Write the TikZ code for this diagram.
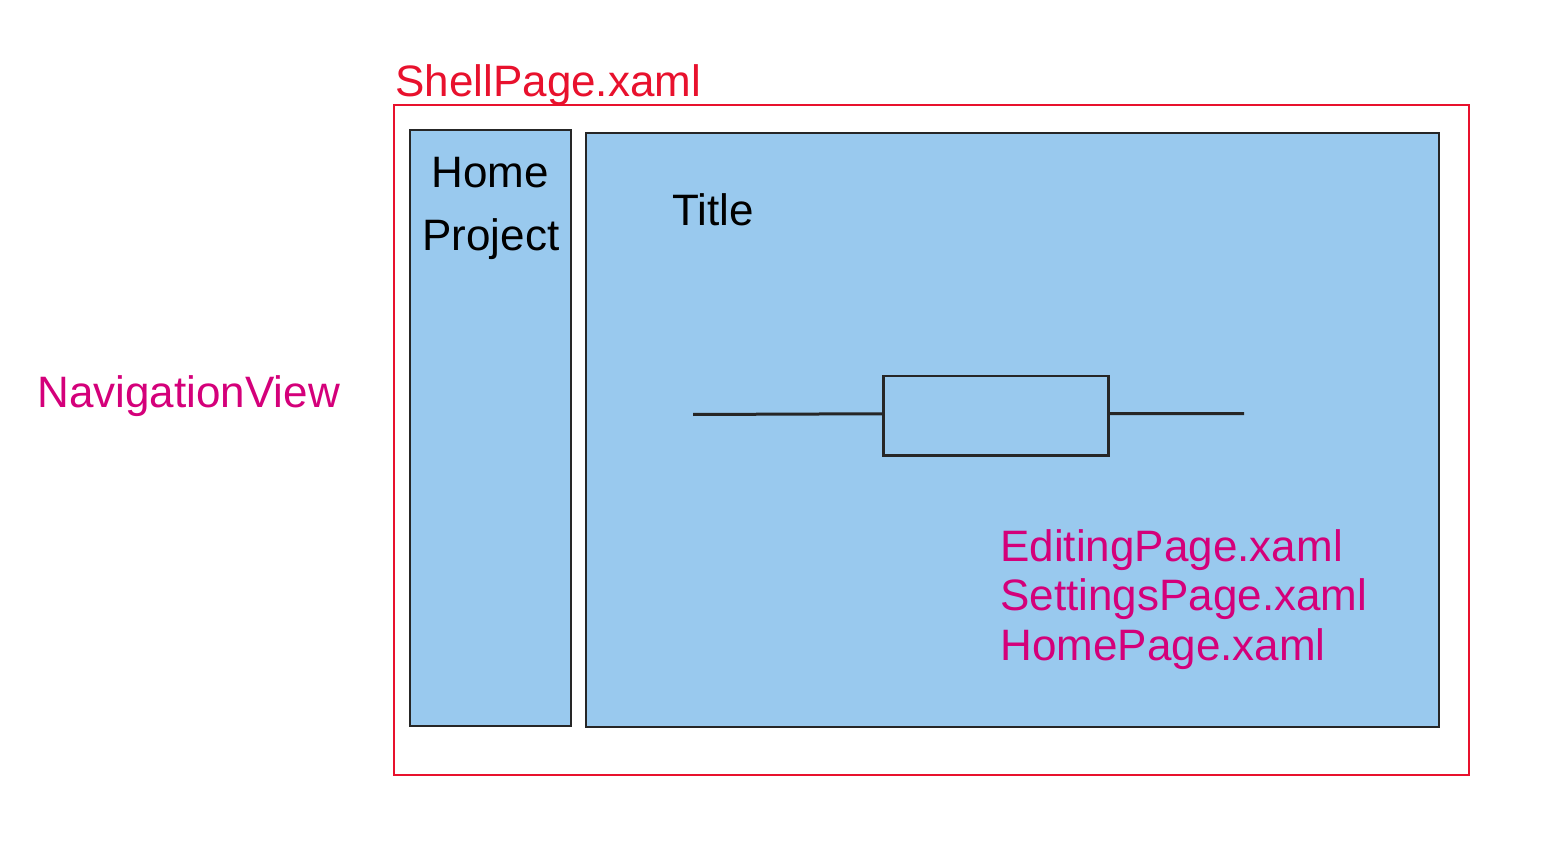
\documentclass[tikz,border=0pt]{standalone}
\usepackage{fontspec}
\setmainfont{Liberation Sans}
\definecolor{shellred}{RGB}{232,17,45}
\definecolor{navpink}{RGB}{212,0,122}
\definecolor{paneblue}{RGB}{153,201,238}
\definecolor{edge}{RGB}{38,38,38}
\begin{document}
\begin{tikzpicture}[x=0.5pt,y=-0.5pt,
  lbl/.style={inner sep=0pt,anchor=base west,font=\fontsize{22}{26}\selectfont},
  pane/.style={draw=edge,line width=1.25pt,fill=paneblue},
  wire/.style={draw=edge,line width=1.5pt}]
\useasboundingbox (0,0) rectangle (1541,844);

% outer shell frame
\draw[shellred,line width=1pt] (394,105) rectangle (1469,775);
\node[lbl,text=shellred] (shell) at (395,97) {ShellPage.xaml};

% navigation pane and content pane
\draw[pane] (410,130) rectangle (571,726);
\draw[pane] (586,133) rectangle (1439,727);

\node[lbl,anchor=base] (home) at (490,188) {Home};
\node[lbl,anchor=base] (project) at (491,251) {Project};
\node[lbl] (title) at (672,226) {Title};

% frame control in the content area
\node[pane,minimum width=112.5pt,minimum height=39.5pt,inner sep=0pt,anchor=north west] (frame) at (882,375) {};
\coordinate (lend) at (693,414.5);
\coordinate (rend) at (1244,413.5);
\draw[wire] (lend) -- ([yshift=1pt]frame.west);
\draw[wire] ([yshift=1pt]frame.east) -- (rend);

\node[lbl,text=navpink] (nav) at (37,408) {NavigationView};
\node[lbl,text=navpink] (edit) at (1000,561) {EditingPage.xaml};
\node[lbl,text=navpink] (settings) at (1000,610) {SettingsPage.xaml};
\node[lbl,text=navpink] (homepage) at (1000,660) {HomePage.xaml};
\end{tikzpicture}
\end{document}
